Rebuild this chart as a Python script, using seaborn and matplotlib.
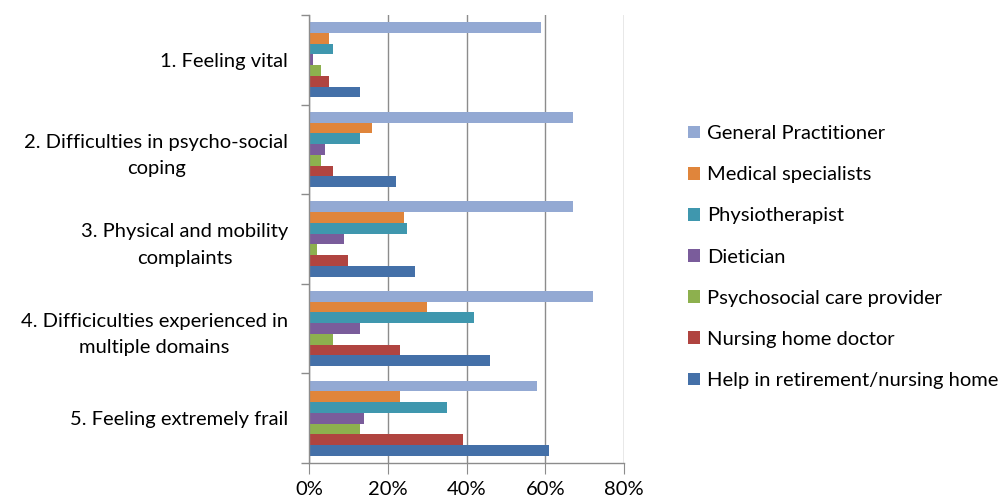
import pandas as pd
import numpy as np
import matplotlib.pyplot as plt
import seaborn as sns
from matplotlib.ticker import PercentFormatter, FixedLocator
from matplotlib.patches import Patch

# Categories (top to bottom)
categories = [
    "1. Feeling vital",
    "2. Difficulties in psycho-social\ncoping",
    "3. Physical and mobility\ncomplaints",
    "4. Difficiculties experienced in\nmultiple domains",
    "5. Feeling extremely frail",
]

providers = [
    "General Practitioner",
    "Medical specialists",
    "Physiotherapist",
    "Dietician",
    "Psychosocial care provider",
    "Nursing home doctor",
    "Help in retirement/nursing home",
]

# share per category, one list per provider
general_practitioner = [0.59, 0.67, 0.67, 0.72, 0.58]
medical_specialists = [0.05, 0.16, 0.24, 0.30, 0.23]
physiotherapist = [0.06, 0.13, 0.25, 0.42, 0.35]
dietician = [0.01, 0.04, 0.09, 0.13, 0.14]
psychosocial = [0.03, 0.03, 0.02, 0.06, 0.13]
nursing_home_doctor = [0.05, 0.06, 0.10, 0.23, 0.39]
help_retirement = [0.13, 0.22, 0.27, 0.46, 0.61]

colors = ["#93A9D3", "#E0853B", "#3F97AE", "#7A5C9B", "#8DB04E", "#B04440", "#4470A8"]

series = [general_practitioner, medical_specialists, physiotherapist, dietician,
          psychosocial, nursing_home_doctor, help_retirement]

rows = []
for prov, vals in zip(providers, series):
    for cat, v in zip(categories, vals):
        rows.append({"category": cat, "provider": prov, "value": v})
df = pd.DataFrame(rows)

plt.rcParams['font.family'] = ['Lato', 'DejaVu Sans']

fig = plt.figure(figsize=(10.05, 5.0), dpi=100)
ax = fig.add_axes([309 / 1005, 1 - 463 / 500, (624 - 309) / 1005, (463 - 15) / 500])

sns.barplot(data=df, x="value", y="category", hue="provider", orient="h",
            order=categories, hue_order=providers, palette=colors,
            saturation=1, width=0.84, ax=ax, legend=False, errorbar=None)

ax.set_xlim(0, 0.8)
ax.set_ylim(4.5, -0.5)
ax.xaxis.set_major_formatter(PercentFormatter(xmax=1, decimals=0))
ax.set_xticks([0, 0.2, 0.4, 0.6, 0.8])
ax.set_xlabel("")
ax.set_ylabel("")

# group separators as major ticks, labels on minor ticks
ax.yaxis.set_major_locator(FixedLocator(np.arange(-0.5, 5, 1)))
ax.yaxis.set_minor_locator(FixedLocator(np.arange(0, 5)))
ax.set_yticklabels([""] * 6)
ax.set_yticklabels(categories, minor=True, fontsize=14.5, multialignment="center",
                   linespacing=1.65)
ax.tick_params(axis="y", which="major", length=6, color="#8c8c8c", width=1)
ax.tick_params(axis="y", which="minor", length=0, pad=15)
ax.tick_params(axis="x", length=8, color="#8c8c8c", labelsize=14.5, pad=5)

ax.grid(axis="x", color="#8c8c8c", linewidth=1)
ax.set_axisbelow(True)
for s in ["top", "right"]:
    ax.spines[s].set_visible(False)
for s in ["left", "bottom"]:
    ax.spines[s].set_color("#8c8c8c")
    ax.spines[s].set_linewidth(1)

handles = [Patch(facecolor=c, edgecolor="none") for c in colors]
fig.legend(handles, providers, loc="upper left", bbox_to_anchor=(678 / 1005, 1 - 115 / 500),
           frameon=False, fontsize=14.5, handlelength=0.6, handleheight=0.6,
           handletextpad=0.35, labelspacing=1.2, borderpad=0)

fig.savefig("out.png", dpi=100)
